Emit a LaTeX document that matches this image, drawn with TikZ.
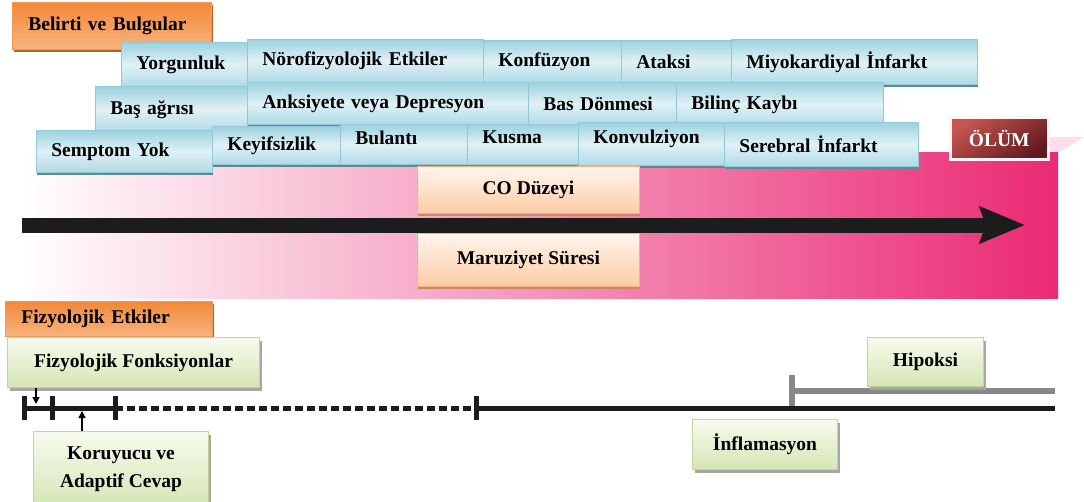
\documentclass[tikz,border=0pt]{standalone}
\usepackage{fontspec}
\setmainfont{Liberation Serif}
\usepackage{tikz}
\usetikzlibrary{arrows.meta,shadows}

\definecolor{symtop}{HTML}{9DD2E0}
\definecolor{symmid}{HTML}{E0F1F6}
\definecolor{symbot}{HTML}{AFDAE6}
\definecolor{symline}{HTML}{92C8D7}
\definecolor{symshadow}{HTML}{5C8B96}
\definecolor{tagtop}{HTML}{F28838}
\definecolor{tagbot}{HTML}{F8B47F}
\definecolor{tagline}{HTML}{F29A55}
\definecolor{tagshadow}{HTML}{B8621F}
\definecolor{peachtop}{HTML}{FFF5EC}
\definecolor{peachbot}{HTML}{FBCCA6}
\definecolor{peachline}{HTML}{F5B280}
\definecolor{peachshadow}{HTML}{C98A5E}
\definecolor{leaftop}{HTML}{F7FBEE}
\definecolor{leafbot}{HTML}{D5E6B4}
\definecolor{leafline}{HTML}{C0D799}
\definecolor{deathtop}{HTML}{C85450}
\definecolor{deathbot}{HTML}{621A1E}
\definecolor{pinkend}{HTML}{EB2A74}
\definecolor{hipgray}{HTML}{888888}
\definecolor{timeblack}{HTML}{1C1C1C}

\tikzset{
  lbl/.style={font=\bfseries\fontsize{19.5}{28}\selectfont, text=black},
  symbox/.style 2 args={lbl, anchor=north west, draw=symline, line width=0.8pt,
    top color=symtop, bottom color=symbot, middle color=symmid,
    inner xsep=15pt, inner ysep=0pt, align=left, text width=#1pt-30pt, minimum height=#2pt,
    drop shadow={shadow xshift=1pt, shadow yshift=-3pt, fill=symshadow, opacity=1}},
  raised/.style={text depth=14pt},
  tagbox/.style 2 args={lbl, anchor=north west, draw=tagline, line width=0.8pt,
    top color=tagtop, bottom color=tagbot,
    inner xsep=16pt, inner ysep=0pt, align=left, text width=#1pt-32pt, minimum height=#2pt,
    drop shadow={shadow xshift=1.5pt, shadow yshift=-2.5pt, fill=tagshadow, opacity=1}},
  peachbox/.style 2 args={lbl, anchor=north west, draw=peachline, line width=0.8pt,
    top color=peachtop, bottom color=peachbot, inner sep=0pt,
    minimum width=#1pt, minimum height=#2pt,
    drop shadow={shadow xshift=1pt, shadow yshift=-3pt, fill=peachshadow, opacity=1}},
  leafbox/.style 2 args={lbl, anchor=north west, draw=leafline, line width=1pt,
    top color=leaftop, bottom color=leafbot, inner sep=0pt, align=center,
    minimum width=#1pt, minimum height=#2pt,
    drop shadow={shadow xshift=2pt, shadow yshift=-3pt, fill=black!35, opacity=1}},
  deathbox/.style 2 args={lbl, text=white, anchor=north west, draw=white!85!pink, line width=2.5pt,
    top color=deathtop, bottom color=deathbot, shading angle=35, inner sep=0pt,
    minimum width=#1pt, minimum height=#2pt},
  timearrow/.style={line width=15pt, draw=timeblack, -{Stealth[length=45pt,width=36pt,inset=6pt]}},
  timeline/.style={line width=5pt, draw=timeblack},
  timetick/.style={line width=5pt, draw=timeblack},
  hipline/.style={line width=6pt, draw=hipgray},
  pointer/.style={line width=1.3pt, -{Triangle[length=7pt,width=7pt]}}
}

\begin{document}
\begin{tikzpicture}[x=1pt,y=-1pt]
\useasboundingbox (0,0) rectangle (1084,501);
% фон
\fill[pinkend!15] (1000,153) -- (1058,153) -- (1084,137) -- (1000,137) -- cycle;
\shade[left color=white, right color=pinkend] (20,152) rectangle (1058,298);
% belirti ve bulgular
\node[tagbox={199}{47}] (bel) at (12,2) {Belirti ve Bulgular};
\node[symbox={126}{44}] (yorg) at (121,42) {Yorgunluk};
\node[symbox={236}{43}] (noro) at (247,39) {Nörofizyolojik Etkiler};
\node[symbox={138}{42}] (konf) at (483,40) {Konfüzyon};
\node[symbox={110}{43}] (atak) at (621,40) {Ataksi};
\node[symbox={246}{45}] (miyo) at (731,39) {Miyokardiyal İnfarkt};
\node[symbox={152}{46}] (bas) at (95,86) {Baş ağrısı};
\node[symbox={281}{42}] (anks) at (247,82) {Anksiyete veya Depresyon};
\node[symbox={148}{43}] (donme) at (528,82) {Bas Dönmesi};
\node[symbox={207}{44}] (bilinc) at (676,82) {Bilinç Kaybı};
\node[symbox={176}{42}] (semp) at (36,130) {Semptom Yok};
\node[symbox={128}{38}] (keyif) at (212,126) {Keyifsizlik};
\node[symbox={127}{40}, raised] (bulan) at (340,124) {Bulantı};
\node[symbox={111}{40}, raised] (kusma) at (467,124) {Kusma};
\node[symbox={146}{43}, raised] (konv) at (578,122) {Konvulziyon};
\node[symbox={194}{44}] (sereb) at (724,122) {Serebral İnfarkt};
\node[deathbox={98}{42}] (olum) at (949,116) {ÖLÜM};
% стрелка
\coordinate (tstart) at (22,225);
\coordinate (tend) at (1025,225);
\draw[timearrow] (tstart) -- (tend);
\node[peachbox={222}{47}] (co) at (417,166) {CO Düzeyi};
\node[peachbox={222}{53}] (maruz) at (417,233) {Maruziyet Süresi};
% fizyolojik etkiler
\node[tagbox={207}{35}] (fizy) at (5,301) {Fizyolojik Etkiler};
\node[leafbox={252}{50}] (fonk) at (7,337) {Fizyolojik Fonksiyonlar};
\draw[hipline] (792,375) -- (792,406);
\coordinate (hstart) at (792,391);
\coordinate (hend) at (1055,391);
\draw[hipline] (hstart) -- (hend);
\coordinate (ta) at (22,408);
\coordinate (tb) at (115,408);
\coordinate (tc) at (476,408);
\coordinate (td) at (1055,408);
\draw[timeline] (ta) -- (tb);
\draw[timeline, dash pattern=on 8pt off 4pt] (tb) -- (tc);
\draw[timeline] (tc) -- (td);
\foreach \tx in {24,52,115,476}
  \draw[timetick] (\tx,396) -- (\tx,420);
\node[leafbox={175}{75}] (koru) at (33,431) {Koruyucu ve\\Adaptif Cevap};
\node[leafbox={116}{49}] (hipo) at (867,337) {Hipoksi};
\node[leafbox={145}{50}] (infl) at (692,419) {İnflamasyon};
% стрелки
\coordinate (pf) at (36,404);
\coordinate (pk) at (82,411);
\draw[pointer] (fonk.south -| pf) -- (pf);
\draw[pointer] (koru.north -| pk) -- (pk);
\end{tikzpicture}
\end{document}
